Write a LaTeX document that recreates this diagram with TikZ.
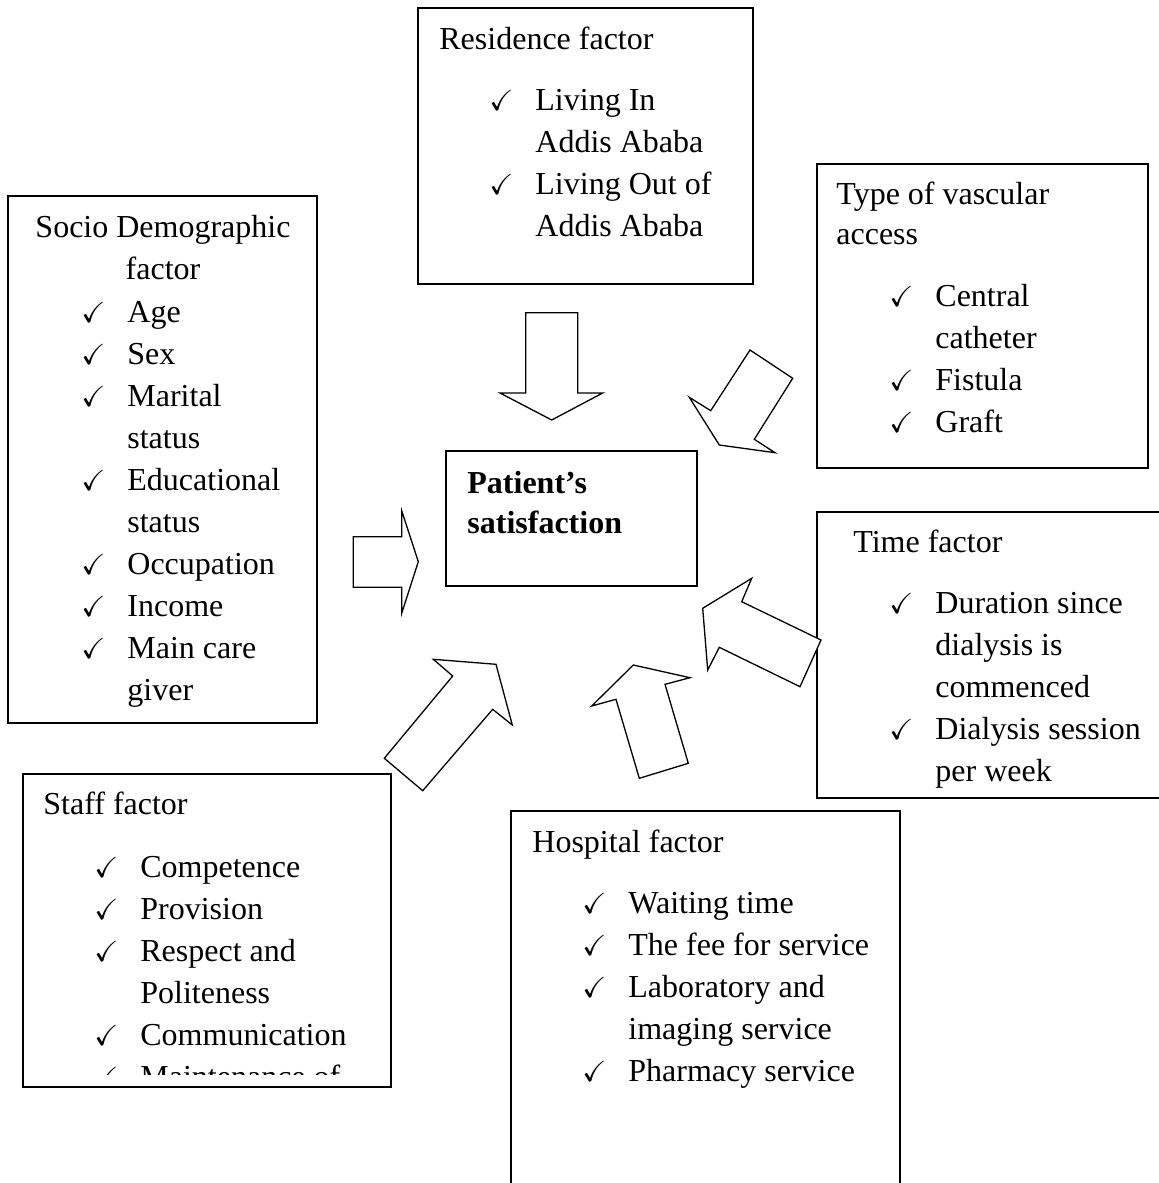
\documentclass[tikz,border=0pt]{standalone}
\usepackage{amssymb}
\usepackage{fontspec}
\setmainfont{Liberation Serif}
\usetikzlibrary{fit}

%% check mark hanging left of an item
\newcommand{\chk}{\llap{\makebox[23pt][l]{\fontsize{14.5}{14}\selectfont$\checkmark$}}}

\begin{document}
\begin{tikzpicture}[
  x=0.5pt, y=-0.5pt,
  font=\fontsize{16}{21}\selectfont,
  box/.style={draw=black, line width=0.9pt, inner sep=0pt},
  ttl/.style={anchor=base west, inner sep=0pt, align=left},
  items/.style={anchor=base west, inner sep=0pt, align=left},
  blockarr/.style={draw=black, line width=0.65pt, fill=white, line join=miter},
]
\clip (0,0) rectangle (1159,1183);
%% multi-line texts are placed at the baseline of their last line

%% ---------- centre ----------
\node[box, fit={(446,451) (697,586)}] (sat) {};
\node[ttl, font=\fontsize{16}{20}\selectfont\bfseries] (satT) at (467,533) {Patient's\\satisfaction};

%% ---------- residence (top) ----------
\node[box, fit={(418,8) (753,284)}] (res) {};
\node[ttl] (resT) at (439,49) {Residence factor};
\node[items] (resI) at (535,236) {\chk Living In\\ Addis Ababa\\ \chk Living Out of\\ Addis Ababa};

%% ---------- socio demographic (left) ----------
\node[box, fit={(8,196) (317,723)}] (soc) {};
\node[anchor=base, inner sep=0pt, align=center] (socT) at (163,279) {Socio Demographic\\ factor};
\node[items] (socI) at (127,700) {\chk Age\\ \chk Sex\\ \chk Marital\\ status\\ \chk Educational\\ status\\
  \chk Occupation\\ \chk Income\\ \chk Main care\\ giver};

%% ---------- vascular access (upper right) ----------
\node[box, fit={(817,164) (1148,468)}] (vas) {};
\node[ttl, font=\fontsize{16}{20}\selectfont] (vasT) at (836,244) {Type of vascular\\ access};
\node[items] (vasI) at (935,432) {\chk Central\\ catheter\\ \chk Fistula\\ \chk Graft};

%% ---------- time (right), runs past the page edge ----------
\node[box, fit={(817,512) (1170,798)}] (tim) {};
\node[ttl] (timT) at (853,552) {Time factor};
\node[items] (timI) at (935,781) {\chk Duration since\\ dialysis is\\ commenced\\ \chk Dialysis session\\ per week};

%% ---------- staff (lower left), last item cut by the box ----------
\node[box, fit={(23,774) (391,1087)}] (stf) {};
\node[ttl] (stfT) at (43,814) {Staff factor};
\begin{scope}
  \clip (23,774) rectangle (391,1074);
  \node[items] (stfI) at (140,1087) {\chk Competence\\ \chk Provision\\ \chk Respect and\\ Politeness\\
    \chk Communication\\ \chk Maintenance of};
\end{scope}

%% ---------- hospital (bottom), runs past the page edge ----------
\node[box, fit={(511,811) (900,1200)}] (hos) {};
\node[ttl] (hosT) at (532,852) {Hospital factor};
\node[items] (hosI) at (628,1081) {\chk Waiting time\\ \chk The fee for service\\ \chk Laboratory and\\ imaging service\\
  \chk Pharmacy service};

%% ---------- block arrows towards the centre ----------
\draw[blockarr] (525.7,312.7) -- (577.7,312.7) -- (577.7,393) -- (602.7,393) -- (551.7,420) -- (500,393) -- (525.7,393) -- cycle;
\draw[blockarr] (353.3,536.7) -- (401.7,536.7) -- (401.7,510.7) -- (418.3,561.7) -- (401.7,613.3) -- (401.7,587.3) -- (353.3,587.3) -- cycle;
\draw[blockarr] (750,350) -- (792.7,378.3) -- (754.3,439.3) -- (775,452.7) -- (719.3,445) -- (689.3,397.3) -- (710.7,410.7) -- cycle;
\draw[blockarr] (821,640) -- (800,686.7) -- (719.3,647.3) -- (707.7,670) -- (702.7,608.3) -- (751.7,578.3) -- (741.7,601.7) -- cycle;
\draw[blockarr] (633.3,665) -- (690,677.7) -- (665,684.3) -- (688.3,763.3) -- (639.3,778.3) -- (616,699.3) -- (591.7,706) -- cycle;
\draw[blockarr] (433.3,659.3) -- (496,664.3) -- (512.3,725) -- (492.7,709.3) -- (422.7,790.7) -- (384.3,758.3) -- (452.7,676) -- cycle;

\end{tikzpicture}
\end{document}
